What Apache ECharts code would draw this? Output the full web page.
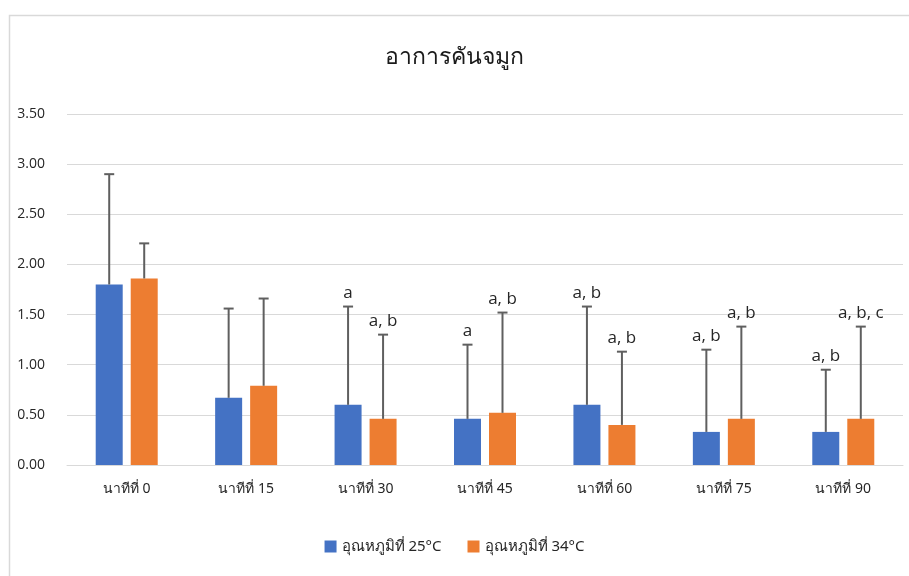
<!DOCTYPE html>
<html>
<head>
<meta charset="utf-8">
<script src="https://cdn.jsdelivr.net/npm/echarts@6/dist/echarts.min.js"></script>
<style>
  html, body { margin: 0; padding: 0; background: #ffffff; }
  #chart { width: 909px; height: 576px; }
</style>
</head>
<body>
<div id="chart"></div>
<script>
// Categories and series
const categories = ['นาทีที่ 0', 'นาทีที่ 15', 'นาทีที่ 30', 'นาทีที่ 45', 'นาทีที่ 60', 'นาทีที่ 75', 'นาทีที่ 90'];
const seriesNames = ['อุณหภูมิที่ 25°C', 'อุณหภูมิที่ 34°C'];
const mean25 = [1.80, 0.67, 0.60, 0.46, 0.60, 0.33, 0.33];
const mean34 = [1.86, 0.79, 0.46, 0.52, 0.40, 0.46, 0.46];
// Upper end of the error bars
const upper25 = [2.90, 1.56, 1.58, 1.20, 1.58, 1.15, 0.95];
const upper34 = [2.21, 1.66, 1.30, 1.52, 1.13, 1.38, 1.38];
// Significance letters printed above the error bars
const sig25 = ['', '', 'a', 'a', 'a, b', 'a, b', 'a, b'];
const sig34 = ['', '', 'a, b', 'a, b', 'a, b', 'a, b', 'a, b, c'];
const yTicks = [0, 0.5, 1, 1.5, 2, 2.5, 3, 3.5];

const colors = ['#4472C4', '#ED7D31'];
const BAR_W = 27;
const BAR_GAP = 8;
const thaiFont = 'Tahoma, "Noto Sans", "DejaVu Sans", sans-serif';
const latinFont = '"Open Sans", "DejaVu Sans", sans-serif';

const chart = echarts.init(document.getElementById('chart'));

function errorSeries(means, uppers, sigs, side) {
  const data = means.map((m, i) => [i, m, uppers[i]]);
  return {
    type: 'custom',
    z: 5,
    silent: true,
    data: data,
    encode: { x: 0, y: [1, 2] },
    renderItem: function (params, api) {
      const idx = api.value(0);
      const base = api.coord([idx, api.value(1)]);
      const top = api.coord([idx, api.value(2)]);
      const x = base[0] + side * (BAR_W + BAR_GAP) / 2;
      const cap = 5;
      const children = [
        { type: 'line', shape: { x1: x, y1: base[1], x2: x, y2: top[1] },
          style: { stroke: '#5f5f5f', lineWidth: 2 } },
        { type: 'line', shape: { x1: x - cap, y1: top[1], x2: x + cap, y2: top[1] },
          style: { stroke: '#5f5f5f', lineWidth: 2 } }
      ];
      const txt = sigs[idx];
      if (txt) {
        children.push({
          type: 'text',
          style: {
            x: x, y: top[1] - 5, text: txt,
            align: 'center', verticalAlign: 'bottom',
            fill: '#262626', font: '17px ' + latinFont
          }
        });
      }
      return { type: 'group', children: children };
    }
  };
}

chart.setOption({
  animation: false,
  backgroundColor: '#ffffff',
  graphic: [{
    type: 'rect',
    shape: { x: 9.5, y: 15.5, width: 920, height: 600 },
    style: { fill: 'none', stroke: '#d9d9d9', lineWidth: 1.5 },
    z: -1
  }],
  title: {
    text: 'อาการคันจมูก',
    left: 'center',
    top: 41,
    textStyle: { fontFamily: thaiFont, fontSize: 23, fontWeight: 'normal', color: '#1a1a1a' }
  },
  legend: {
    data: seriesNames,
    bottom: 17,
    left: 'center',
    itemWidth: 12,
    itemHeight: 12,
    itemGap: 26,
    icon: 'rect',
    textStyle: { fontFamily: thaiFont, fontSize: 15, color: '#262626' }
  },
  grid: { left: 67, right: 6, top: 114, bottom: 111 },
  xAxis: {
    type: 'category',
    data: categories,
    axisTick: { show: false },
    axisLine: { lineStyle: { color: '#d9d9d9', width: 1 } },
    axisLabel: { fontFamily: thaiFont, fontSize: 14, color: '#262626', margin: 17 }
  },
  yAxis: {
    type: 'value',
    min: yTicks[0],
    max: yTicks[yTicks.length - 1],
    interval: 0.5,
    axisLine: { show: false },
    axisTick: { show: false },
    splitLine: { lineStyle: { color: '#d9d9d9', width: 1 } },
    axisLabel: {
      fontFamily: latinFont,
      fontSize: 14, color: '#262626', margin: 22,
      formatter: v => v.toFixed(2)
    }
  },
  series: [
    {
      name: seriesNames[0], type: 'bar', data: mean25,
      barWidth: BAR_W, barGap: (BAR_GAP / BAR_W * 100) + '%',
      itemStyle: { color: colors[0] }
    },
    {
      name: seriesNames[1], type: 'bar', data: mean34,
      barWidth: BAR_W,
      itemStyle: { color: colors[1] }
    },
    errorSeries(mean25, upper25, sig25, -1),
    errorSeries(mean34, upper34, sig34, 1)
  ]
});
</script>
</body>
</html>
